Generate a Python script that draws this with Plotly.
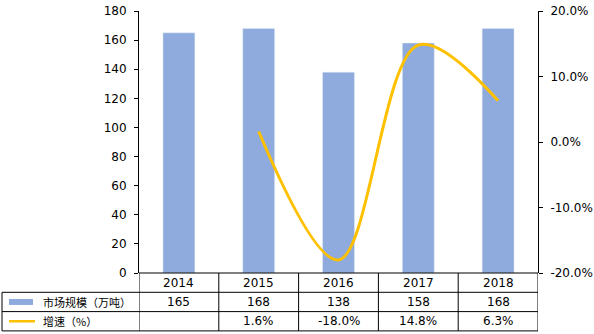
import plotly.graph_objects as go

# Market size (10k tonnes) and year-on-year growth (%)
years = ["2014", "2015", "2016", "2017", "2018"]
market = [165, 168, 138, 158, 168]
growth = [None, 1.6, -18.0, 14.8, 6.3]

left_ticks = list(range(0, 181, 20))
right_ticks = [-20, -10, 0, 10, 20]

W, H = 594, 334
ML, MR, MT, MB = 139, 56, 11, 61
plot_w = W - ML - MR
plot_h = H - MT - MB
row_h = 19.3

BAR = "#8FAADC"
LINE = "#FFC000"
FONT = "DejaVu Sans, Noto Sans CJK SC, sans-serif"
CJK = "Noto Sans CJK SC, DejaVu Sans, sans-serif"


def py(px_below):
    """Paper y for a distance in pixels below the plot area's bottom edge."""
    return -px_below / plot_h


def fx(px):
    """Paper x for an absolute pixel column."""
    return (px - ML) / plot_w


fig = go.Figure()
fig.add_trace(go.Bar(x=list(range(len(years))), y=market, marker_color=BAR,
                     name="市场规模（万吨）", yaxis="y"))
gx = [i for i, g in enumerate(growth) if g is not None]
gy = [g for g in growth if g is not None]
fig.add_trace(go.Scatter(x=gx, y=gy, mode="lines", yaxis="y2",
                         line=dict(color=LINE, width=3, shape="spline", smoothing=1.0),
                         name="增速（%）"))

shapes = []
annotations = []
n = len(years)
line_style = dict(color="black", width=1)

# Data table under the plot: year row, market row, growth row
shapes.append(dict(type="line", xref="x", yref="paper", x0=-0.5, x1=n - 0.5,
                   y0=0, y1=0, line=line_style))
for r in (1, 2, 3):
    shapes.append(dict(type="line", xref="paper", yref="paper",
                       x0=fx(2), x1=1, y0=py(r * row_h), y1=py(r * row_h),
                       line=line_style))
for i in range(n + 1):
    shapes.append(dict(type="line", xref="x", yref="paper", x0=i - 0.5, x1=i - 0.5,
                       y0=0, y1=py(3 * row_h), line=line_style))
shapes.append(dict(type="line", xref="paper", yref="paper", x0=fx(2), x1=fx(2),
                   y0=py(row_h), y1=py(3 * row_h), line=line_style))

cell_font = dict(size=12, family=FONT, color="black")
for i, yr in enumerate(years):
    g = growth[i]
    for r, txt in enumerate([yr, str(market[i]), "" if g is None else f"{g:.1f}%"]):
        annotations.append(dict(x=i, y=py((r + 0.5) * row_h), xref="x", yref="paper",
                                text=txt, showarrow=False, xanchor="center",
                                yanchor="middle", font=cell_font))

# legend keys inside the table's label column
shapes.append(dict(type="rect", xref="paper", yref="paper", x0=fx(9), x1=fx(33),
                   y0=py(1.5 * row_h - 3), y1=py(1.5 * row_h + 3),
                   fillcolor=BAR, line=dict(width=0)))
shapes.append(dict(type="line", xref="paper", yref="paper", x0=fx(9), x1=fx(35),
                   y0=py(2.5 * row_h), y1=py(2.5 * row_h),
                   line=dict(color=LINE, width=2.5)))
for r, label in ((1, "市场规模（万吨）"), (2, "增速（%）")):
    annotations.append(dict(x=fx(41), y=py((r + 0.5) * row_h), xref="paper",
                            yref="paper", text=label, showarrow=False,
                            xanchor="left", yanchor="middle",
                            font=dict(size=11, family=CJK, color="black")))

fig.update_layout(
    width=W, height=H,
    margin=dict(l=ML, r=MR, t=MT, b=MB, pad=0, autoexpand=False),
    paper_bgcolor="white", plot_bgcolor="white",
    showlegend=False, bargap=0.6,
    font=dict(family=FONT, size=12, color="black"),
    xaxis=dict(showticklabels=False, showline=False, automargin=False,
               showgrid=False, zeroline=False, range=[-0.5, n - 0.5], ticks=""),
    yaxis=dict(range=[0, 180], tickvals=left_ticks, showgrid=False, zeroline=False,
               showline=True, linecolor="black", linewidth=1, automargin=False,
               ticks="outside", ticklen=4, tickcolor="black", ticklabelstandoff=5,
               tickfont=dict(size=12, family=FONT)),
    yaxis2=dict(range=[-20, 20], tickvals=right_ticks,
                ticktext=[f"{v:.1f}%" for v in right_ticks],
                overlaying="y", side="right", showgrid=False, zeroline=False,
                showline=True, linecolor="black", linewidth=1, automargin=False,
                ticks="outside", ticklen=4, tickcolor="black", ticklabelstandoff=5,
                tickfont=dict(size=12, family=FONT)),
    shapes=shapes, annotations=annotations,
)

fig.write_html("out.html")
